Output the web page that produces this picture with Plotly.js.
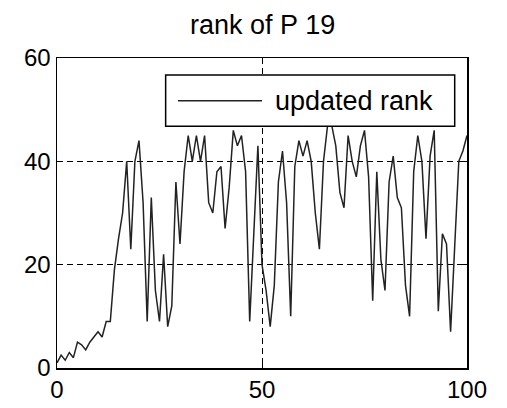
<!DOCTYPE html>
<html>
<head>
<meta charset="utf-8">
<script src="https://cdn.plot.ly/plotly-3.0.1.min.js"></script>
<style>html,body{margin:0;padding:0;background:#fff;}</style>
</head>
<body>
<div id="chart" style="width:507px;height:408px;"></div>
<script>
const iterations = [];
for (let i = 0; i <= 100; i++) iterations.push(i);
const updatedRank = [
  1, 2.5, 1.5, 3, 2, 5, 4.5, 3.5, 5, 6,
  7, 6, 9, 9, 19, 25, 30, 40, 23, 40,
  44, 32, 9, 33, 15, 9, 22, 8, 12, 36,
  24, 38, 45, 40, 45, 40, 45, 32, 30, 38,
  39, 27, 35, 46, 43, 45, 38, 9, 26, 43,
  20, 15, 8, 16, 36, 42, 32, 10, 39, 44,
  41, 44, 40, 30, 23, 40, 47, 47, 43, 34,
  31, 45, 40, 37, 43, 46, 37, 13, 38, 21,
  15, 36, 41, 33, 31, 16, 10, 38, 45, 40,
  25, 41, 46, 11, 26, 24, 7, 24, 40, 42, 45
];
const xTicks = [0, 50, 100];
const yTicks = [0, 20, 40, 60];
const titleText = 'rank of P 19';
const legendText = 'updated rank';

const font = 'Liberation Sans, Arial, sans-serif';
const trace = {
  x: iterations, y: updatedRank, type: 'scatter', mode: 'lines',
  line: {color: '#222', width: 1.5}, showlegend: false, name: legendText
};
const axisCommon = {
  showline: true, linecolor: '#000', linewidth: 1.5, mirror: 'ticks',
  ticks: 'inside', ticklen: 5, tickcolor: '#000', tickwidth: 1,
  showgrid: true, gridcolor: '#000', griddash: '6px,4px', gridwidth: 1,
  zeroline: false, tickfont: {family: font, size: 24, color: '#000'}
};
const layout = {
  width: 507, height: 408,
  margin: {l: 57, r: 40, t: 58, b: 40},
  paper_bgcolor: '#fff', plot_bgcolor: '#fff',
  title: {text: titleText, font: {family: font, size: 27, color: '#000'}, x: 0.518, xanchor: 'center', y: 0.94, yanchor: 'middle'},
  xaxis: Object.assign({}, axisCommon, {range: [0, 100], tickvals: xTicks, ticktext: xTicks.map(String)}),
  yaxis: Object.assign({}, axisCommon, {range: [0, 60], tickvals: yTicks, ticktext: yTicks.map(String)}),
  shapes: [
    {type: 'rect', xref: 'paper', yref: 'paper', x0: 0.265, x1: 0.97, y0: 0.78, y1: 0.945,
     line: {color: '#000', width: 1.5}, fillcolor: '#fff', layer: 'above'},
    {type: 'line', xref: 'paper', yref: 'paper', x0: 0.295, x1: 0.50, y0: 0.862, y1: 0.862,
     line: {color: '#222', width: 1.5}, layer: 'above'}
  ],
  annotations: [
    {text: legendText, xref: 'paper', yref: 'paper', x: 0.528, y: 0.862, xanchor: 'left', yanchor: 'middle',
     showarrow: false, font: {family: font, size: 27, color: '#000'}}
  ]
};
Plotly.newPlot('chart', [trace], layout, {staticPlot: true, displayModeBar: false});
</script>
</body>
</html>
